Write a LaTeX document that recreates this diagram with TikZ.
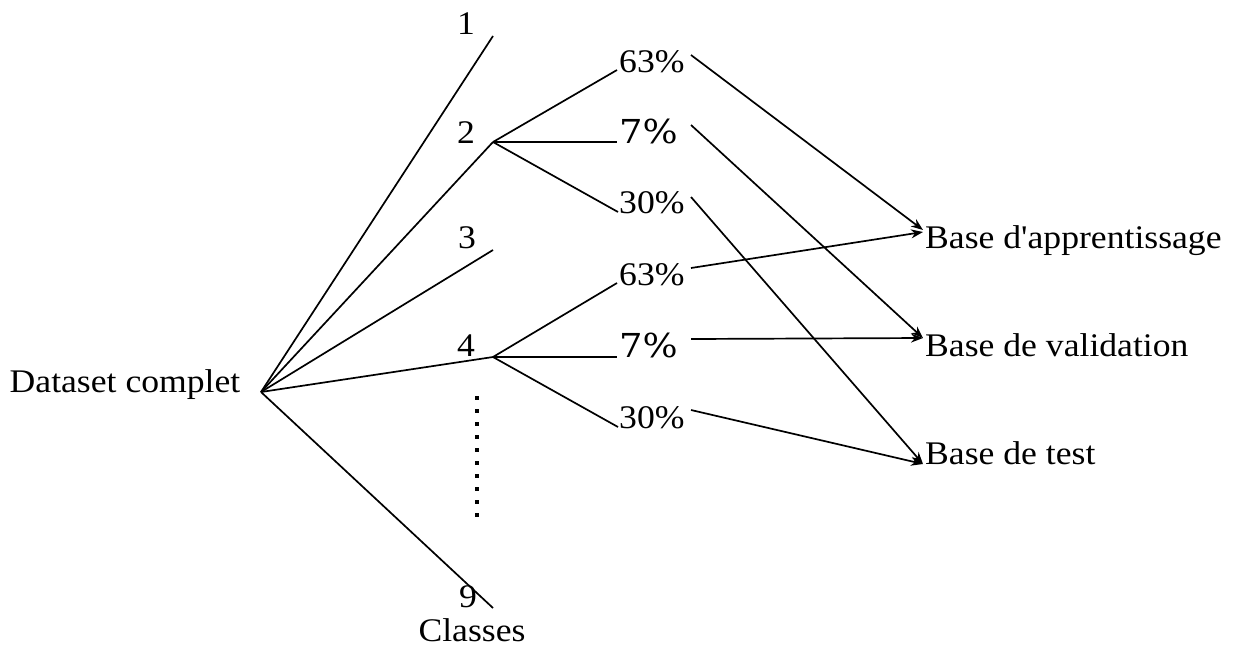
\documentclass[tikz,border=0pt]{standalone}
\usepackage{graphicx}
\usepackage{fontspec}
\setmainfont{Liberation Serif}[Ligatures=TeXOff]
\newfontfamily\pctfont{DejaVu Serif}
\usetikzlibrary{arrows.meta,calc}
\newcommand{\wtxt}[1]{\scalebox{1.08}[1]{#1}}
\newcommand{\wpct}[1]{\scalebox{1.12}[1]{\pctfont #1}}
\begin{document}
\begin{tikzpicture}[x=1pt,y=-1pt,
  lbl/.style={inner sep=0pt, font=\fontsize{33}{36}\selectfont},
  pctl/.style={inner sep=0pt, font=\fontsize{33}{36}\selectfont},
  ln/.style={line width=1.7pt},
  arr/.style={ln, -{Stealth[length=12pt,width=9pt]}},
  dots/.style={line width=4pt, dash pattern=on 4pt off 9pt}]
\useasboundingbox (0,0) rectangle (1233,646);

% root and classes
\node[lbl,anchor=base] (ds) at (125,392) {\wtxt{Dataset complet}};
\coordinate (root) at (261,392);
\node[lbl,anchor=base] (c1) at (466,34) {\wtxt{1}};
\node[lbl,anchor=base] (c2) at (466,143) {\wtxt{2}};
\node[lbl,anchor=base] (c3) at (467,248) {\wtxt{3}};
\node[lbl,anchor=base] (c4) at (466,356) {\wtxt{4}};
\node[lbl,anchor=base] (c9) at (468,607) {\wtxt{9}};
\node[lbl,anchor=base] (cls) at (472,641) {\wtxt{Classes}};
\coordinate (e1) at (493,36);
\coordinate (b2) at (493,142);
\coordinate (e3) at (493,250);
\coordinate (b4) at (493,357);
\coordinate (e9) at (493,608);
\draw[ln] (root) -- (e1);
\draw[ln] (root) -- (b2);
\draw[ln] (root) -- (e3);
\draw[ln] (root) -- (b4);
\draw[ln] (root) -- (e9);

% dots
\coordinate (dt) at (477,396);
\coordinate (db) at (477,518);
\draw[dots] (dt) -- (db);

% percentages
\node[lbl,anchor=base west] (p2a) at (619,72) {\wtxt{63\%}};
\node[pctl,anchor=base west] (p2b) at (619,143) {\wpct{7\%}};
\node[lbl,anchor=base west] (p2c) at (619,213) {\wtxt{30\%}};
\node[lbl,anchor=base west] (p4a) at (619,285) {\wtxt{63\%}};
\node[pctl,anchor=base west] (p4b) at (619,357) {\wpct{7\%}};
\node[lbl,anchor=base west] (p4c) at (619,428) {\wtxt{30\%}};

\draw[ln] (b2) -- ($(p2a.base west)+(-2,-2)$);
\draw[ln] (b2) -- ([xshift=-2pt]b2 -| p2b.west);
\draw[ln] (b2) -- ($(p2c.base west)+(-1,-1)$);
\draw[ln] (b4) -- ($(p4a.base west)+(-2,-2)$);
\draw[ln] (b4) -- ([xshift=-2pt]b4 -| p4b.west);
\draw[ln] (b4) -- ($(p4c.base west)+(-1,-1)$);

% targets
\node[lbl,anchor=base west] (ba) at (925,248) {\wtxt{Base d'apprentissage}};
\node[lbl,anchor=base west] (bv) at (925,356) {\wtxt{Base de validation}};
\node[lbl,anchor=base west] (bt) at (925,464) {\wtxt{Base de test}};

\draw[arr] ($(p2a.base west)+(72,-17)$) -- ($(ba.base west)+(-2,-18)$);
\draw[arr] ($(p2b.base west)+(72,-18)$) -- ($(bv.base west)+(-2,-18)$);
\draw[arr] ($(p2c.base west)+(72,-16)$) -- ($(bt.base west)+(-2,0)$);
\draw[arr] ($(p4a.base west)+(72,-17)$) -- ($(ba.base west)+(-2,-16)$);
\draw[arr] ($(p4b.base west)+(72,-18)$) -- ($(bv.base west)+(-2,-18)$);
\draw[arr] ($(p4c.base west)+(72,-18)$) -- ($(bt.base west)+(-2,0)$);
\end{tikzpicture}
\end{document}
